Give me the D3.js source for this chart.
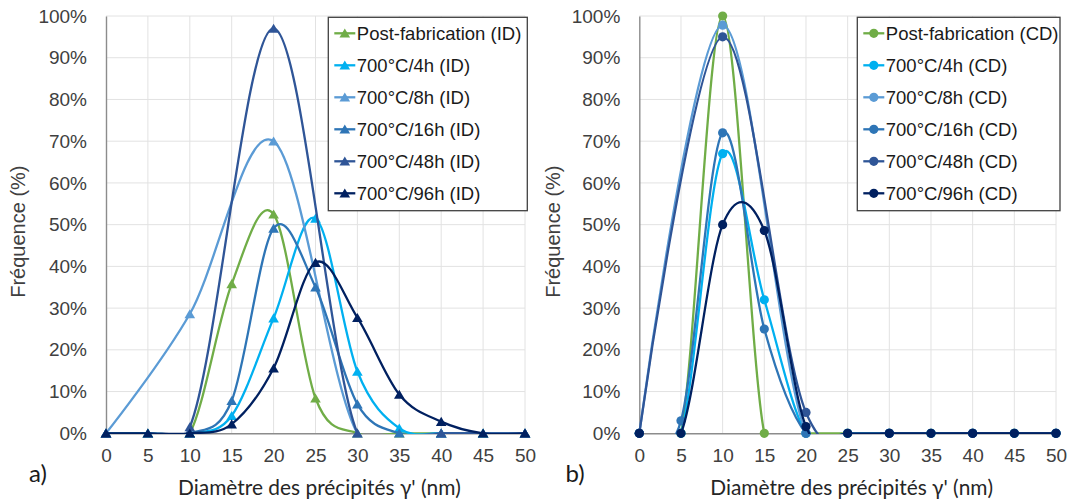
<!DOCTYPE html>
<html><head><meta charset="utf-8">
<script src="https://cdn.jsdelivr.net/npm/d3@7"></script>
<style>body{margin:0;background:#fff} svg{display:block}</style>
</head><body>
<svg id="c" width="1075" height="503"></svg>
<script>
// ---------- DATA ----------
const xTicks = [0, 5, 10, 15, 20, 25, 30, 35, 40, 45, 50];
const yTicks = [0, 10, 20, 30, 40, 50, 60, 70, 80, 90, 100];
const x5nm = [0, 5, 10, 15, 20, 25, 30, 35, 40, 45, 50];
const x10nm = [0, 10, 20, 30, 40, 50];

const namesID = ["Post-fabrication (ID)", "700°C/4h (ID)", "700°C/8h (ID)", "700°C/16h (ID)", "700°C/48h (ID)", "700°C/96h (ID)"];
const namesCD = ["Post-fabrication (CD)", "700°C/4h (CD)", "700°C/8h (CD)", "700°C/16h (CD)", "700°C/48h (CD)", "700°C/96h (CD)"];

// a) ID
const idPostFab = [0, 0, 0, 35.8, 52.5, 8.4, 0, 0, 0, 0, 0];
const id4h      = [0, 0, 0, 4.2, 27.6, 51.5, 14.8, 1.2, 0, 0, 0];
const id8h      = [0, 28.6, 70, 0, 0, 0];            // on x10nm
const id16h     = [0, 0, 0, 7.8, 49.1, 35, 7, 0, 0, 0, 0];
const id48h     = [0, 1.5, 97, 0, 0, 0];             // on x10nm
const id96h     = [0, 0, 0, 2.2, 15.6, 40.9, 27.7, 9.3, 2.8, 0, 0];

// b) CD
const cdPostFab = [0, 0, 100, 0, 0, 0, 0, 0, 0, 0, 0];
const cd4h      = [0, 0, 67, 32, 0, 0, 0, 0, 0, 0, 0];
const cd8h      = [0, 97.8, 0, 0, 0, 0];             // on x10nm
const cd16h     = [0, 3, 72, 25, 0, 0, 0, 0, 0, 0, 0];
const cd48h     = [0, 95, 5, 0, 0, 0];               // on x10nm
const cd96h     = [0, 0, 50, 48.6, 1.6, 0, 0, 0, 0, 0, 0];

const seriesColors = ["#70AD47", "#00B0F0", "#5B9BD5", "#2E75B6", "#2F5597", "#002060"];

function zip(xs, ys) { return xs.map((v, i) => [v, ys[i]]); }

const seriesID = [
  zip(x5nm, idPostFab), zip(x5nm, id4h), zip(x10nm, id8h),
  zip(x5nm, id16h), zip(x10nm, id48h), zip(x5nm, id96h)
];
const seriesCD = [
  zip(x5nm, cdPostFab), zip(x5nm, cd4h), zip(x10nm, cd8h),
  zip(x5nm, cd16h), zip(x10nm, cd48h), zip(x5nm, cd96h)
];

// ---------- DRAW ----------
const svg = d3.select("#c");
const SANS = "'Liberation Sans', Arial, sans-serif";
const TITLEF = "Lato, 'Open Sans', sans-serif";

const triPath = "M0,-4.8L5.3,4.3L-5.3,4.3Z";

function drawMarker(sel, marker, color) {
  if (marker === "tri") {
    sel.append("path").attr("d", triPath).attr("fill", color);
  } else {
    sel.append("circle").attr("r", 4.6).attr("fill", color);
  }
}

function panel(cfg) {
  const top = 16, bottom = 433.3;
  const x = d3.scaleLinear().domain([0, 50]).range([cfg.left, cfg.right]);
  const y = d3.scaleLinear().domain([0, 100]).range([bottom, top]);
  const g = svg.append("g");

  // gridlines
  g.append("g").selectAll("line").data(yTicks.slice(1)).join("line")
    .attr("x1", cfg.left).attr("x2", cfg.right)
    .attr("y1", d => y(d)).attr("y2", d => y(d))
    .attr("stroke", "#E2E2E2").attr("stroke-width", 1);
  g.append("g").selectAll("line").data(xTicks.slice(1)).join("line")
    .attr("x1", d => x(d)).attr("x2", d => x(d))
    .attr("y1", top).attr("y2", bottom)
    .attr("stroke", "#E2E2E2").attr("stroke-width", 1);

  // axes
  const ya = g.append("g").attr("transform", `translate(${cfg.left},0)`)
    .call(d3.axisLeft(y).tickValues(yTicks).tickFormat(d => d + "%").tickSize(0).tickSizeOuter(0).tickPadding(19));
  ya.select(".domain").attr("stroke", "#8C8C8C").attr("stroke-width", 1.4);
  ya.selectAll("text").attr("font-family", SANS).attr("font-size", 19).attr("fill", "#404040");

  const xa = g.append("g").attr("transform", `translate(0,${bottom})`)
    .call(d3.axisBottom(x).tickValues(xTicks).tickSize(0).tickSizeOuter(0).tickPadding(15));
  xa.select(".domain").attr("stroke", "#8C8C8C").attr("stroke-width", 1.4);
  xa.selectAll("text").attr("font-family", SANS).attr("font-size", 19).attr("fill", "#404040");

  // axis titles
  g.append("text")
    .attr("transform", `translate(${cfg.yTitleX},${(top + bottom) / 2 + 7}) rotate(-90)`)
    .attr("text-anchor", "middle").attr("dominant-baseline", "central")
    .attr("font-family", SANS).attr("font-size", 20).attr("fill", "#404040")
    .text("Fréquence (%)");

  const xt = g.append("text")
    .attr("x", (cfg.left + cfg.right) / 2 + 4).attr("y", 486)
    .attr("text-anchor", "middle").attr("dominant-baseline", "central")
    .attr("font-family", TITLEF).attr("font-size", 21).attr("fill", "#262626")
    .text("Diamètre des précipités γ' (nm)");
  const len = xt.node().getComputedTextLength();
  if (len > 0) xt.attr("font-size", 21 * 283 / len);

  g.append("text")
    .attr("x", cfg.letterX).attr("y", 472)
    .attr("text-anchor", "middle").attr("dominant-baseline", "central")
    .attr("font-family", TITLEF).attr("font-size", 24).attr("fill", "#1a1a1a")
    .text(cfg.letter);

  // clip
  const clipId = "clip" + cfg.letter.replace(")", "");
  svg.append("clipPath").attr("id", clipId)
    .append("rect").attr("x", cfg.left - 5).attr("y", 0)
    .attr("width", cfg.right - cfg.left + 10).attr("height", bottom + 0.6);

  const line = d3.line().x(d => x(d[0])).y(d => y(d[1])).curve(d3.curveCardinal.tension(0));

  cfg.series.forEach((s, i) => {
    const sg = g.append("g");
    sg.append("path").datum(s).attr("d", line)
      .attr("fill", "none").attr("stroke", seriesColors[i]).attr("stroke-width", 2.3)
      .attr("clip-path", `url(#${clipId})`);
    s.forEach(p => {
      const m = sg.append("g").attr("transform", `translate(${x(p[0])},${y(p[1])})`);
      drawMarker(m, cfg.marker, seriesColors[i]);
    });
  });

  // legend
  const lg = g.append("g");
  lg.append("rect").attr("x", cfg.legend.x).attr("y", cfg.legend.y)
    .attr("width", cfg.legend.w).attr("height", cfg.legend.h)
    .attr("fill", "#fff").attr("stroke", "#404040").attr("stroke-width", 1.3);
  cfg.names.forEach((n, i) => {
    const ly = 33.3 + i * 32;
    const lx = cfg.legend.x + 6;
    lg.append("line").attr("x1", lx).attr("x2", lx + 21).attr("y1", ly).attr("y2", ly)
      .attr("stroke", seriesColors[i]).attr("stroke-width", 2.3);
    const m = lg.append("g").attr("transform", `translate(${lx + 10.5},${ly})`);
    drawMarker(m, cfg.marker, seriesColors[i]);
    lg.append("text").attr("x", lx + 22.5).attr("y", ly)
      .attr("dominant-baseline", "central")
      .attr("font-family", SANS).attr("font-size", 18.5).attr("fill", "#1a1a1a")
      .text(n);
  });
}

panel({
  left: 106, right: 525, yTitleX: 18.3, letter: "a)", letterX: 38,
  series: seriesID, names: namesID, marker: "tri",
  legend: { x: 328.3, y: 17.3, w: 199, h: 193.4 }
});
panel({
  left: 639.3, right: 1056, yTitleX: 553.3, letter: "b)", letterX: 575,
  series: seriesCD, names: namesCD, marker: "circle",
  legend: { x: 857.3, y: 17.3, w: 202.7, h: 193.4 }
});
</script>
</body></html>
